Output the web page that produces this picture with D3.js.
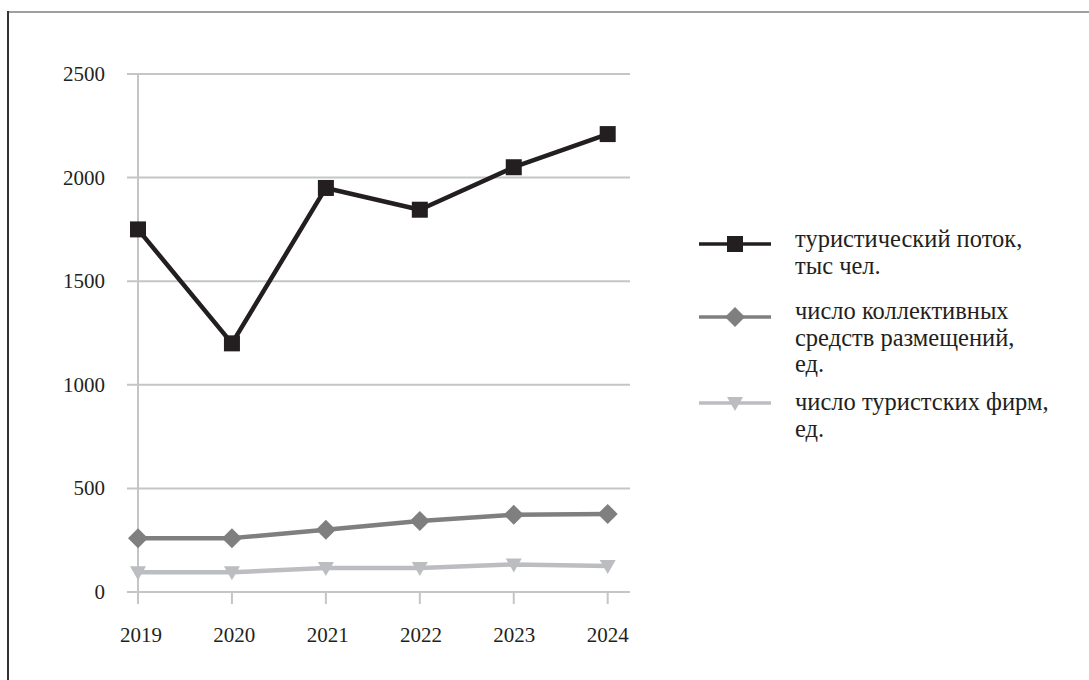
<!DOCTYPE html>
<html>
<head>
<meta charset="utf-8">
<script src="https://cdn.jsdelivr.net/npm/d3@7"></script>
<style>
  body { margin: 0; background: #fff; }
  svg text { font-family: 'Liberation Serif', 'Times New Roman', serif; fill: #231f20; }
</style>
</head>
<body>
<div id="graf"></div>
<script>
// Данные графика
const years = ['2019', '2020', '2021', '2022', '2023', '2024']
const potok = [1750, 1200, 1950, 1845, 2050, 2210]
const ksr = [260, 260, 300, 343, 373, 377]
const firmy = [95, 95, 116, 116, 133, 126]
const yTicks = [0, 500, 1000, 1500, 2000, 2500]

const seriesNames = [
  ['туристический поток,', 'тыс чел.'],
  ['число коллективных', 'средств размещений,', 'ед.'],
  ['число туристских фирм,', 'ед.']
]

// Размеры
const W = 1089, H = 680
const svg = d3.select('#graf').append('svg')
  .attr('width', W).attr('height', H)

// рамка: только верх и лево
svg.append('line').attr('x1', 8).attr('x2', W).attr('y1', 12).attr('y2', 12)
  .attr('stroke', '#808080').attr('stroke-width', 1.5)
svg.append('line').attr('x1', 8).attr('x2', 8).attr('y1', 11).attr('y2', H)
  .attr('stroke', '#333').attr('stroke-width', 2)

const x = d3.scalePoint().domain(years).range([138, 607.7])
const y = d3.scaleLinear().domain([0, 2500]).range([592, 74])

// сетка
svg.selectAll('line.grid').data(yTicks).enter().append('line')
  .attr('class', 'grid')
  .attr('x1', 127).attr('x2', 630)
  .attr('y1', d => y(d)).attr('y2', d => y(d))
  .attr('stroke', '#c4c5c7').attr('stroke-width', 2)

// ось Y
svg.append('line').attr('x1', x('2019')).attr('x2', x('2019'))
  .attr('y1', y(2500)).attr('y2', y(0) + 12)
  .attr('stroke', '#c4c5c7').attr('stroke-width', 2)

// засечки оси X
svg.selectAll('line.xt').data(years.slice(1)).enter().append('line')
  .attr('class', 'xt')
  .attr('x1', d => x(d)).attr('x2', d => x(d))
  .attr('y1', y(0)).attr('y2', y(0) + 12)
  .attr('stroke', '#c4c5c7').attr('stroke-width', 2)

// подписи
svg.selectAll('text.yl').data(yTicks).enter().append('text')
  .attr('class', 'yl')
  .attr('x', 105).attr('y', d => y(d) + 7)
  .attr('text-anchor', 'end')
  .attr('font-size', '21px')
  .text(d => d)

svg.selectAll('text.xl').data(years).enter().append('text')
  .attr('class', 'xl')
  .attr('x', (d, i) => x(d) + 3 - i * 0.6).attr('y', 642)
  .attr('text-anchor', 'middle')
  .attr('font-size', '21px')
  .text(d => d)

// серии
const series = [
  { vals: firmy, color: '#bcbdc0', shape: 'tri' },
  { vals: ksr, color: '#7f7f80', shape: 'dia' },
  { vals: potok, color: '#231f20', shape: 'sq' }
]

const line = d3.line().x((d, i) => x(years[i])).y(d => y(d))

function marker(sel, shape, color) {
  if (shape == 'sq') {
    sel.append('rect').attr('x', -8).attr('y', -8).attr('width', 16).attr('height', 16)
      .attr('fill', color)
  } else if (shape == 'dia') {
    sel.append('path').attr('d', 'M0,-10L10,0L0,10L-10,0Z').attr('fill', color)
  } else {
    sel.append('path').attr('d', 'M-8,-6L8,-6L0,8Z').attr('fill', color)
  }
}

series.forEach(s => {
  svg.append('path').datum(s.vals)
    .attr('d', line)
    .attr('fill', 'none')
    .attr('stroke', s.color)
    .attr('stroke-width', 4.5)
    .attr('stroke-linejoin', 'round')
  s.vals.forEach((v, i) => {
    const gm = svg.append('g').attr('transform', `translate(${x(years[i])},${y(v)})`)
    marker(gm, s.shape, s.color)
  })
})

// легенда
const legY = [244, 317, 403]
const legText = [247, 319, 410]
const legSeries = [series[2], series[1], series[0]]
legSeries.forEach((s, i) => {
  svg.append('line').attr('x1', 699).attr('x2', 771)
    .attr('y1', legY[i]).attr('y2', legY[i])
    .attr('stroke', s.color).attr('stroke-width', 3.5)
  const gm = svg.append('g').attr('transform', `translate(735,${legY[i]})`)
  marker(gm, s.shape, s.color)
  seriesNames[i].forEach((t, j) => {
    svg.append('text')
      .attr('x', 795).attr('y', legText[i] + j * 26.5)
      .attr('font-size', '24.5px')
      .text(t)
  })
})
</script>
</body>
</html>
